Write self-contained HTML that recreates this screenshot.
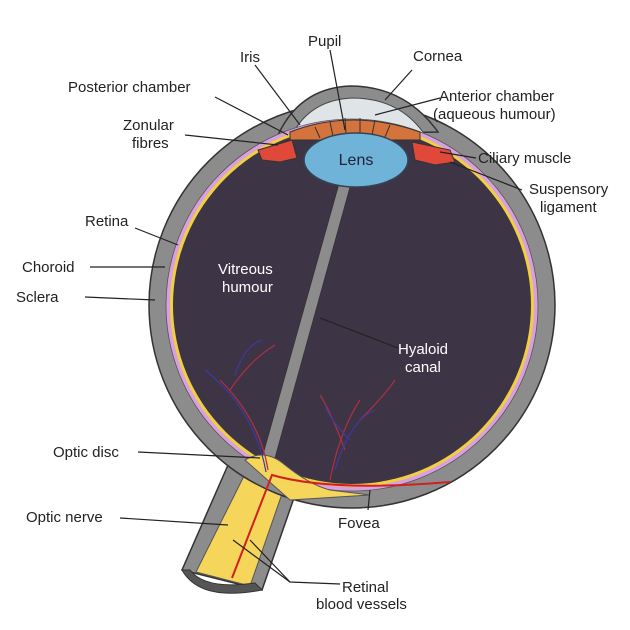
<!DOCTYPE html>
<html><head><meta charset="utf-8"><style>
html,body{margin:0;padding:0;background:#fff}
svg{display:block}
text{font-family:"Liberation Sans",sans-serif;font-size:15px;fill:#222}
</style></head><body>
<svg width="630" height="630" viewBox="0 0 630 630">
<!-- optic nerve -->
<g>
<path d="M228,465 L182,570 L262,590 L295,495 Z" fill="#8c8c8c" stroke="#333" stroke-width="1.5"/>
<path d="M248,468 L196,572 L250,586 L284,488 Z" fill="#f5d55a" stroke="#555" stroke-width="1"/>
<path d="M182,570 Q200,602 262,590 L255,583 Q205,590 190,570Z" fill="#555" stroke="#333"/>
</g>
<!-- sclera -->
<circle cx="352" cy="305" r="203" fill="#8c8c8c" stroke="#333" stroke-width="1.5"/>
<!-- cornea -->
<path d="M278,135 Q300,88 350,86 Q405,86 438,132 Z" fill="#8c8c8c" stroke="#333" stroke-width="1.5"/>
<path d="M292,135 Q310,100 352,98 Q400,98 425,135 Z" fill="#dfe5e7" stroke="#444"/>
<!-- choroid / retina -->
<circle cx="352" cy="305" r="186" fill="#d9a0e0" stroke="#555" stroke-width="0.8"/>
<circle cx="352" cy="305" r="182" fill="#f0d040"/>
<circle cx="352" cy="305" r="179" fill="#3d3445"/>
<path d="M280,150 Q352,130 430,150 L430,170 L280,170Z" fill="#3d3445"/>
<!-- iris -->
<path d="M290,132 Q352,108 420,132 L420,140 L290,140 Z" fill="#d4733b" stroke="#333"/>
<g stroke="#333" stroke-width="1"><line x1="330" y1="122" x2="333" y2="136"/><line x1="345" y1="118" x2="346" y2="134"/><line x1="360" y1="118" x2="360" y2="134"/><line x1="375" y1="120" x2="372" y2="135"/><line x1="390" y1="125" x2="385" y2="137"/><line x1="315" y1="127" x2="320" y2="138"/></g>
<!-- ciliary -->
<path d="M258,150 L292,140 L297,158 L280,162 L262,160 Z" fill="#e0483a" stroke="#333"/>
<path d="M412,142 L450,150 L455,162 L435,165 L415,160 Z" fill="#e0483a" stroke="#333"/>
<!-- hyaloid canal -->
<path d="M340,180 L352,180 L275,458 L262,458 Z" fill="#8c8c8c" stroke="#333" stroke-width="0.8"/>
<!-- lens -->
<ellipse cx="356" cy="160" rx="52" ry="27" fill="#6fb3d9" stroke="#345" stroke-width="1.5"/>
<!-- optic disc -->
<path d="M245,460 Q265,448 285,465 Q310,485 330,490 L370,495 L290,500 Z" fill="#f5d55a" stroke="#555"/>
<!-- vessels -->
<g fill="none" stroke-width="1.2">
<path d="M268,470 Q260,420 220,380 M230,390 Q250,360 275,345 M330,480 Q340,430 360,400 M345,450 Q330,410 320,395 M360,420 Q385,395 395,380" stroke="#b03040"/>
<path d="M266,472 Q255,410 205,370 M235,375 Q245,345 262,340 M335,470 Q350,420 375,410 M350,440 Q330,420 325,405" stroke="#3c3aa0"/>
<path d="M232,578 L272,475 Q330,492 450,482" stroke="#d02020" stroke-width="2"/>
</g>
<!-- label lines -->
<g stroke="#222" stroke-width="1.2" fill="none">
<line x1="255" y1="65" x2="300" y2="125"/>
<line x1="330" y1="50" x2="345" y2="130"/>
<line x1="412" y1="70" x2="385" y2="100"/>
<line x1="440" y1="98" x2="375" y2="115"/>
<line x1="215" y1="97" x2="288" y2="135"/>
<line x1="185" y1="135" x2="278" y2="145"/>
<line x1="476" y1="158" x2="440" y2="152"/>
<line x1="522" y1="190" x2="450" y2="162"/>
<line x1="135" y1="228" x2="178" y2="245"/>
<line x1="90" y1="267" x2="165" y2="267"/>
<line x1="85" y1="297" x2="155" y2="300"/>
<line x1="320" y1="318" x2="398" y2="348"/>
<line x1="138" y1="452" x2="260" y2="458"/>
<line x1="120" y1="518" x2="228" y2="525"/>
<line x1="370" y1="490" x2="368" y2="510"/>
<polyline points="233,540 290,582 340,584"/>
<line x1="250" y1="540" x2="290" y2="582"/>
</g>
<text x="240" y="62">Iris</text>
<text x="308" y="46">Pupil</text>
<text x="413" y="61">Cornea</text>
<text x="439" y="101">Anterior chamber</text>
<text x="433" y="119">(aqueous humour)</text>
<text x="68" y="92">Posterior chamber</text>
<text x="123" y="130">Zonular</text>
<text x="132" y="148">fibres</text>
<text x="478" y="163">Ciliary muscle</text>
<text x="529" y="194">Suspensory</text>
<text x="540" y="212">ligament</text>
<text x="85" y="226">Retina</text>
<text x="22" y="272">Choroid</text>
<text x="16" y="302">Sclera</text>
<text x="218" y="274" style="fill:#fff">Vitreous</text>
<text x="222" y="292" style="fill:#fff">humour</text>
<text x="398" y="354" style="fill:#fff">Hyaloid</text>
<text x="405" y="372" style="fill:#fff">canal</text>
<text x="338" y="528">Fovea</text>
<text x="53" y="457">Optic disc</text>
<text x="26" y="522">Optic nerve</text>
<text x="342" y="592">Retinal</text>
<text x="316" y="609">blood vessels</text>
<text x="356" y="165" style="font-size:16px;fill:#223" text-anchor="middle">Lens</text>
</svg>
</body></html>
